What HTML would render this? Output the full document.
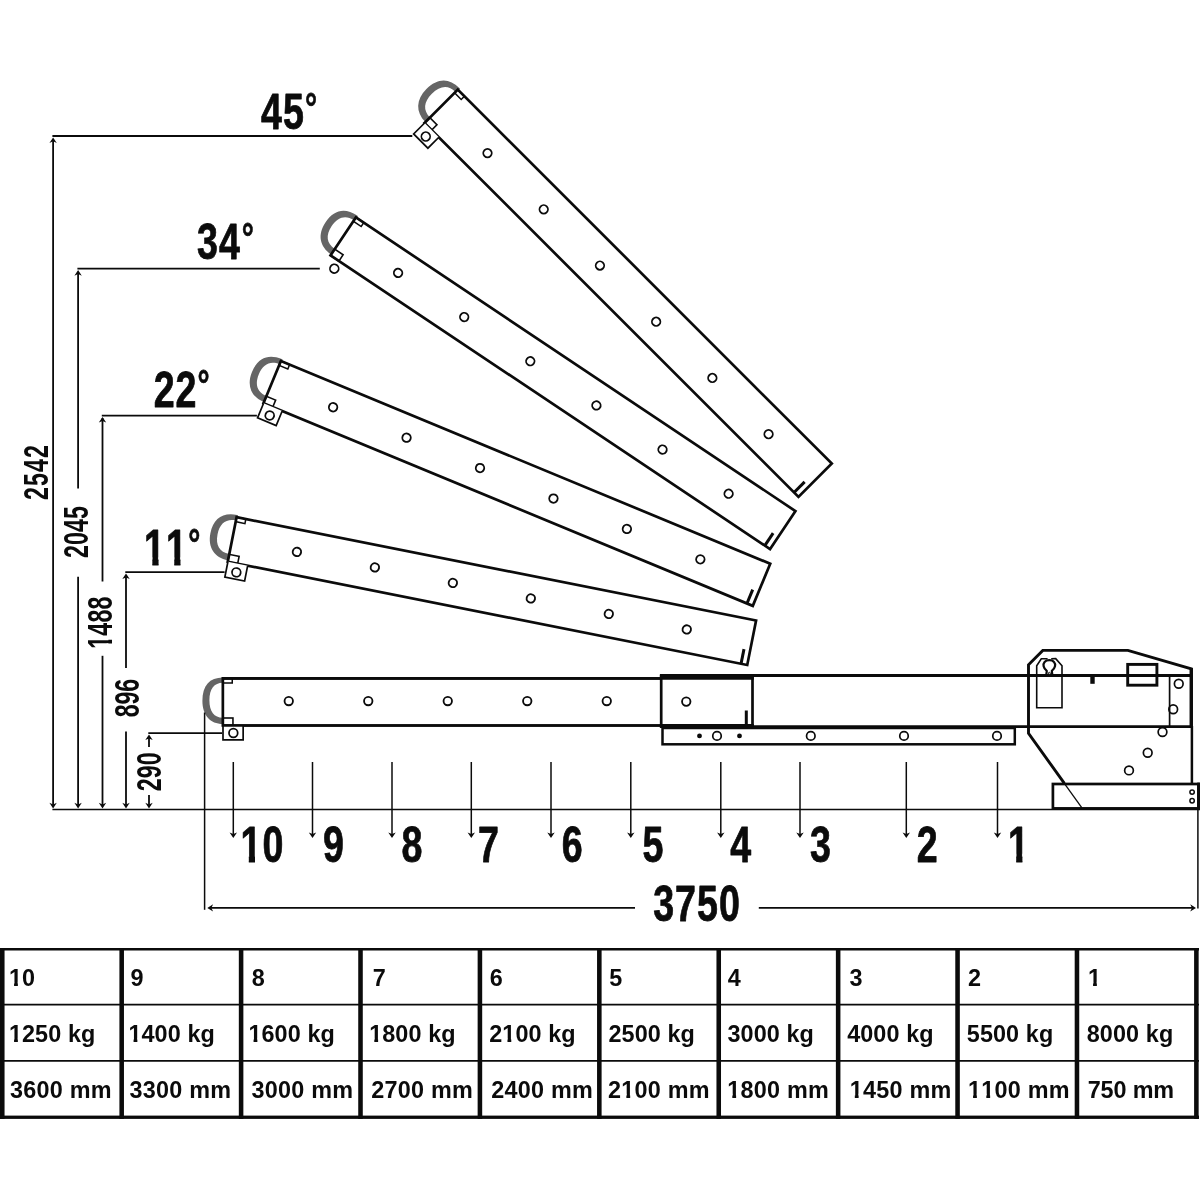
<!DOCTYPE html>
<html lang="en"><head><meta charset="utf-8"><title>Load diagram</title>
<style>html,body{margin:0;padding:0;background:#fff}body{width:1200px;height:1200px;overflow:hidden}svg{display:block;filter:grayscale(1)}text{font-family:'Liberation Sans', sans-serif;fill:#0b0b0b}</style>
</head><body>
<svg width="1200" height="1200" viewBox="0 0 1200 1200">
<defs>
<clipPath id="c1"><rect x="-20.00" y="-60.60" width="49.43" height="52.46"/><rect x="11.09" y="-8.64" width="8.33" height="33.89"/><rect x="29.43" y="-60.60" width="49.43" height="85.85"/></clipPath>
<clipPath id="c2"><rect x="-20.00" y="-60.60" width="69.43" height="52.46"/><rect x="11.09" y="-8.64" width="8.33" height="33.89"/></clipPath>
<clipPath id="c3"><rect x="-20.00" y="-60.60" width="49.43" height="52.46"/><rect x="11.09" y="-8.64" width="8.33" height="33.89"/><rect x="29.43" y="-60.60" width="49.43" height="52.46"/><rect x="40.51" y="-8.64" width="8.33" height="33.89"/></clipPath>
<clipPath id="c4"><rect x="-20.00" y="-42.00" width="39.62" height="36.36"/><rect x="7.87" y="-6.14" width="5.40" height="23.64"/><rect x="19.62" y="-42.00" width="19.62" height="59.50"/><rect x="39.23" y="-42.00" width="19.62" height="59.50"/><rect x="58.85" y="-42.00" width="39.62" height="59.50"/></clipPath>
<clipPath id="c5"><rect x="-20.00" y="-28.08" width="33.11" height="24.31"/><rect x="5.16" y="-4.27" width="3.81" height="15.97"/><rect x="13.11" y="-28.08" width="33.11" height="39.78"/></clipPath>
<clipPath id="c6"><rect x="-20.00" y="-28.08" width="53.11" height="24.31"/><rect x="5.16" y="-4.27" width="3.81" height="15.97"/></clipPath>
<clipPath id="c7"><rect x="-20.00" y="-28.08" width="33.11" height="24.31"/><rect x="5.16" y="-4.27" width="3.81" height="15.97"/><rect x="13.11" y="-28.08" width="13.11" height="39.78"/><rect x="26.23" y="-28.08" width="13.11" height="39.78"/><rect x="39.34" y="-28.08" width="13.11" height="39.78"/><rect x="52.46" y="-28.08" width="6.60" height="39.78"/><rect x="59.06" y="-28.08" width="13.11" height="39.78"/><rect x="72.17" y="-28.08" width="34.39" height="39.78"/></clipPath>
<clipPath id="c8"><rect x="-20.00" y="-28.08" width="33.11" height="24.31"/><rect x="5.16" y="-4.27" width="3.81" height="15.97"/><rect x="13.11" y="-28.08" width="13.11" height="39.78"/><rect x="26.23" y="-28.08" width="13.11" height="39.78"/><rect x="39.34" y="-28.08" width="13.11" height="39.78"/><rect x="52.46" y="-28.08" width="6.60" height="39.78"/><rect x="59.06" y="-28.08" width="13.11" height="39.78"/><rect x="72.17" y="-28.08" width="34.39" height="39.78"/></clipPath>
<clipPath id="c9"><rect x="-20.00" y="-28.08" width="33.11" height="24.31"/><rect x="5.16" y="-4.27" width="3.81" height="15.97"/><rect x="13.11" y="-28.08" width="13.11" height="39.78"/><rect x="26.23" y="-28.08" width="13.11" height="39.78"/><rect x="39.34" y="-28.08" width="13.11" height="39.78"/><rect x="52.46" y="-28.08" width="6.60" height="39.78"/><rect x="59.06" y="-28.08" width="13.11" height="39.78"/><rect x="72.17" y="-28.08" width="34.39" height="39.78"/></clipPath>
<clipPath id="c10"><rect x="-20.00" y="-28.08" width="33.11" height="24.31"/><rect x="5.16" y="-4.27" width="3.81" height="15.97"/><rect x="13.11" y="-28.08" width="13.11" height="39.78"/><rect x="26.23" y="-28.08" width="13.11" height="39.78"/><rect x="39.34" y="-28.08" width="13.11" height="39.78"/><rect x="52.46" y="-28.08" width="6.60" height="39.78"/><rect x="59.06" y="-28.08" width="13.11" height="39.78"/><rect x="72.17" y="-28.08" width="34.39" height="39.78"/></clipPath>
<clipPath id="c11"><rect x="-20.00" y="-28.08" width="33.11" height="39.78"/><rect x="13.11" y="-28.08" width="13.11" height="24.31"/><rect x="18.28" y="-4.27" width="3.81" height="15.97"/><rect x="26.23" y="-28.08" width="13.11" height="39.78"/><rect x="39.34" y="-28.08" width="13.11" height="39.78"/><rect x="52.46" y="-28.08" width="6.60" height="39.78"/><rect x="59.06" y="-28.08" width="13.11" height="39.78"/><rect x="72.17" y="-28.08" width="34.39" height="39.78"/></clipPath>
<clipPath id="c12"><rect x="-20.00" y="-28.08" width="33.26" height="39.78"/><rect x="13.26" y="-28.08" width="13.26" height="24.31"/><rect x="18.43" y="-4.27" width="3.81" height="15.97"/><rect x="26.53" y="-28.08" width="13.26" height="39.78"/><rect x="39.79" y="-28.08" width="13.26" height="39.78"/><rect x="53.06" y="-28.08" width="6.75" height="39.78"/><rect x="59.81" y="-28.08" width="21.06" height="39.78"/><rect x="80.86" y="-28.08" width="41.06" height="39.78"/></clipPath>
<clipPath id="c13"><rect x="-20.00" y="-28.08" width="33.26" height="24.31"/><rect x="5.16" y="-4.27" width="3.81" height="15.97"/><rect x="13.26" y="-28.08" width="13.26" height="39.78"/><rect x="26.53" y="-28.08" width="13.26" height="39.78"/><rect x="39.79" y="-28.08" width="13.26" height="39.78"/><rect x="53.06" y="-28.08" width="6.75" height="39.78"/><rect x="59.81" y="-28.08" width="21.06" height="39.78"/><rect x="80.86" y="-28.08" width="41.06" height="39.78"/></clipPath>
<clipPath id="c14"><rect x="-20.00" y="-28.08" width="33.26" height="24.31"/><rect x="5.16" y="-4.27" width="3.81" height="15.97"/><rect x="13.26" y="-28.08" width="13.26" height="39.78"/><rect x="26.53" y="-28.08" width="13.26" height="39.78"/><rect x="39.79" y="-28.08" width="13.26" height="39.78"/><rect x="53.06" y="-28.08" width="6.75" height="39.78"/><rect x="59.81" y="-28.08" width="21.06" height="39.78"/><rect x="80.86" y="-28.08" width="41.06" height="39.78"/></clipPath>
<clipPath id="c15"><rect x="-20.00" y="-28.08" width="33.26" height="24.31"/><rect x="5.16" y="-4.27" width="3.81" height="15.97"/><rect x="13.26" y="-28.08" width="13.26" height="24.31"/><rect x="18.43" y="-4.27" width="3.81" height="15.97"/><rect x="26.53" y="-28.08" width="13.26" height="39.78"/><rect x="39.79" y="-28.08" width="13.26" height="39.78"/><rect x="53.06" y="-28.08" width="6.75" height="39.78"/><rect x="59.81" y="-28.08" width="21.06" height="39.78"/><rect x="80.86" y="-28.08" width="41.06" height="39.78"/></clipPath>
</defs>
<rect width="1200" height="1200" fill="#fff"/>
<line x1="52.40" y1="809.60" x2="1200.00" y2="809.60" stroke="#0b0b0b" stroke-width="1.5" stroke-linecap="butt"/>
<line x1="52.40" y1="136.00" x2="412.30" y2="136.00" stroke="#0b0b0b" stroke-width="1.8" stroke-linecap="butt"/>
<line x1="77.40" y1="268.70" x2="319.80" y2="268.70" stroke="#0b0b0b" stroke-width="1.8" stroke-linecap="butt"/>
<line x1="101.80" y1="415.60" x2="256.90" y2="415.60" stroke="#0b0b0b" stroke-width="1.8" stroke-linecap="butt"/>
<line x1="125.30" y1="572.10" x2="224.60" y2="572.10" stroke="#0b0b0b" stroke-width="1.8" stroke-linecap="butt"/>
<line x1="148.30" y1="733.10" x2="222.00" y2="733.10" stroke="#0b0b0b" stroke-width="1.8" stroke-linecap="butt"/>
<line x1="53.10" y1="139.00" x2="53.10" y2="806.00" stroke="#0b0b0b" stroke-width="1.8" stroke-linecap="butt"/>
<line x1="78.10" y1="272.00" x2="78.10" y2="488.50" stroke="#0b0b0b" stroke-width="1.8" stroke-linecap="butt"/>
<line x1="78.10" y1="576.70" x2="78.10" y2="806.00" stroke="#0b0b0b" stroke-width="1.8" stroke-linecap="butt"/>
<line x1="102.50" y1="418.00" x2="102.50" y2="581.50" stroke="#0b0b0b" stroke-width="1.8" stroke-linecap="butt"/>
<line x1="102.50" y1="655.80" x2="102.50" y2="806.00" stroke="#0b0b0b" stroke-width="1.8" stroke-linecap="butt"/>
<line x1="126.00" y1="575.00" x2="126.00" y2="668.00" stroke="#0b0b0b" stroke-width="1.8" stroke-linecap="butt"/>
<line x1="126.00" y1="731.50" x2="126.00" y2="806.00" stroke="#0b0b0b" stroke-width="1.8" stroke-linecap="butt"/>
<line x1="149.00" y1="736.00" x2="149.00" y2="747.00" stroke="#0b0b0b" stroke-width="1.8" stroke-linecap="butt"/>
<line x1="149.00" y1="795.00" x2="149.00" y2="806.00" stroke="#0b0b0b" stroke-width="1.8" stroke-linecap="butt"/>
<polygon points="53.10,137.40 49.40,143.00 53.10,141.32 56.80,143.00" fill="#0b0b0b"/>
<polygon points="53.10,808.40 49.40,802.80 53.10,804.48 56.80,802.80" fill="#0b0b0b"/>
<polygon points="78.10,270.10 74.40,275.70 78.10,274.02 81.80,275.70" fill="#0b0b0b"/>
<polygon points="78.10,808.40 74.40,802.80 78.10,804.48 81.80,802.80" fill="#0b0b0b"/>
<polygon points="102.50,417.00 98.80,422.60 102.50,420.92 106.20,422.60" fill="#0b0b0b"/>
<polygon points="102.50,808.40 98.80,802.80 102.50,804.48 106.20,802.80" fill="#0b0b0b"/>
<polygon points="126.00,573.50 122.30,579.10 126.00,577.42 129.70,579.10" fill="#0b0b0b"/>
<polygon points="126.00,808.40 122.30,802.80 126.00,804.48 129.70,802.80" fill="#0b0b0b"/>
<polygon points="149.00,734.50 145.30,740.10 149.00,738.42 152.70,740.10" fill="#0b0b0b"/>
<polygon points="149.00,808.40 145.30,802.80 149.00,804.48 152.70,802.80" fill="#0b0b0b"/>
<g transform="translate(487.50,153.10) rotate(45)">
<path d="M-64.9,-26.10 L-65.9,-26.10 C-80.56,-26.10 -88.45,-17.68 -88.45,-2.05 C-88.45,12.86 -79.88,22.00 -65.9,22.00 L-64.9,22.00 L-64.9,15.45 L-65.9,15.45 C-75.88,15.45 -81.25,9.15 -81.25,-2.55 C-81.25,-14.25 -75.88,-20.55 -65.9,-20.55 L-64.9,-20.55 Z" fill="#656565"/>
<rect x="-65.9" y="-23.9" width="528.9" height="47.10" fill="#fff" stroke="#0b0b0b" stroke-width="2.7"/>
<rect x="-65.9" y="-23.9" width="9.4" height="4.6" fill="none" stroke="#0b0b0b" stroke-width="1.5"/>
<rect x="-65.9" y="15.70" width="10.1" height="7.5" fill="none" stroke="#0b0b0b" stroke-width="1.6"/>
<path d="M-65.75,23.2 L-65.75,38.7 L-45.60000000000001,38.7 L-45.60000000000001,23.2" fill="#fff" stroke="#0b0b0b" stroke-width="1.7"/>
<circle cx="-55.40" cy="31.9" r="4.35" fill="#fff" stroke="#0b0b0b" stroke-width="1.75"/>
<circle cx="0.00" cy="0" r="4.2" fill="#fff" stroke="#0b0b0b" stroke-width="1.85"/>
<circle cx="79.50" cy="0" r="4.2" fill="#fff" stroke="#0b0b0b" stroke-width="1.85"/>
<circle cx="159.00" cy="0" r="4.2" fill="#fff" stroke="#0b0b0b" stroke-width="1.85"/>
<circle cx="238.50" cy="0" r="4.2" fill="#fff" stroke="#0b0b0b" stroke-width="1.85"/>
<circle cx="318.00" cy="0" r="4.2" fill="#fff" stroke="#0b0b0b" stroke-width="1.85"/>
<circle cx="397.50" cy="0" r="4.2" fill="#fff" stroke="#0b0b0b" stroke-width="1.85"/>
<line x1="456.7" y1="8.20" x2="456.7" y2="23.2" stroke="#0b0b0b" stroke-width="3"/>
</g>
<g transform="translate(398.10,272.90) rotate(33.75)">
<path d="M-64.9,-24.90 L-65.9,-24.90 C-80.56,-24.90 -88.45,-16.73 -88.45,-1.55 C-88.45,12.93 -79.88,21.80 -65.9,21.80 L-64.9,21.80 L-64.9,15.25 L-65.9,15.25 C-75.88,15.25 -81.25,9.20 -81.25,-2.05 C-81.25,-13.30 -75.88,-19.35 -65.9,-19.35 L-64.9,-19.35 Z" fill="#656565"/>
<rect x="-65.9" y="-22.7" width="528.6" height="45.70" fill="#fff" stroke="#0b0b0b" stroke-width="2.7"/>
<rect x="-65.9" y="-22.7" width="9.4" height="4.6" fill="none" stroke="#0b0b0b" stroke-width="1.5"/>
<rect x="-65.9" y="15.50" width="10.1" height="7.5" fill="none" stroke="#0b0b0b" stroke-width="1.6"/>
<circle cx="-55.40" cy="31.9" r="4.35" fill="#fff" stroke="#0b0b0b" stroke-width="1.75"/>
<circle cx="0.00" cy="0" r="4.2" fill="#fff" stroke="#0b0b0b" stroke-width="1.85"/>
<circle cx="79.50" cy="0" r="4.2" fill="#fff" stroke="#0b0b0b" stroke-width="1.85"/>
<circle cx="159.00" cy="0" r="4.2" fill="#fff" stroke="#0b0b0b" stroke-width="1.85"/>
<circle cx="238.50" cy="0" r="4.2" fill="#fff" stroke="#0b0b0b" stroke-width="1.85"/>
<circle cx="318.00" cy="0" r="4.2" fill="#fff" stroke="#0b0b0b" stroke-width="1.85"/>
<circle cx="397.50" cy="0" r="4.2" fill="#fff" stroke="#0b0b0b" stroke-width="1.85"/>
<line x1="456.4" y1="8.00" x2="456.4" y2="23.0" stroke="#0b0b0b" stroke-width="3"/>
</g>
<g transform="translate(333.10,407.25) rotate(22.5)">
<path d="M-64.9,-24.90 L-65.9,-24.90 C-80.56,-24.90 -88.45,-16.74 -88.45,-1.60 C-88.45,12.85 -79.88,21.70 -65.9,21.70 L-64.9,21.70 L-64.9,15.15 L-65.9,15.15 C-75.88,15.15 -81.25,9.11 -81.25,-2.10 C-81.25,-13.31 -75.88,-19.35 -65.9,-19.35 L-64.9,-19.35 Z" fill="#656565"/>
<rect x="-65.9" y="-22.7" width="529.65" height="45.60" fill="#fff" stroke="#0b0b0b" stroke-width="2.7"/>
<rect x="-65.9" y="-22.7" width="9.4" height="4.6" fill="none" stroke="#0b0b0b" stroke-width="1.5"/>
<rect x="-65.9" y="15.40" width="10.1" height="7.5" fill="none" stroke="#0b0b0b" stroke-width="1.6"/>
<path d="M-65.75,22.9 L-65.75,38.7 L-45.60000000000001,38.7 L-45.60000000000001,22.9" fill="#fff" stroke="#0b0b0b" stroke-width="1.7"/>
<circle cx="-55.40" cy="31.9" r="4.35" fill="#fff" stroke="#0b0b0b" stroke-width="1.75"/>
<circle cx="0.00" cy="0" r="4.2" fill="#fff" stroke="#0b0b0b" stroke-width="1.85"/>
<circle cx="79.50" cy="0" r="4.2" fill="#fff" stroke="#0b0b0b" stroke-width="1.85"/>
<circle cx="159.00" cy="0" r="4.2" fill="#fff" stroke="#0b0b0b" stroke-width="1.85"/>
<circle cx="238.50" cy="0" r="4.2" fill="#fff" stroke="#0b0b0b" stroke-width="1.85"/>
<circle cx="318.00" cy="0" r="4.2" fill="#fff" stroke="#0b0b0b" stroke-width="1.85"/>
<circle cx="397.50" cy="0" r="4.2" fill="#fff" stroke="#0b0b0b" stroke-width="1.85"/>
<line x1="457.45" y1="7.90" x2="457.45" y2="22.9" stroke="#0b0b0b" stroke-width="3"/>
</g>
<g transform="translate(296.90,551.90) rotate(11.25)">
<path d="M-64.9,-24.50 L-65.9,-24.50 C-80.56,-24.50 -88.45,-16.38 -88.45,-1.30 C-88.45,13.08 -79.88,21.90 -65.9,21.90 L-64.9,21.90 L-64.9,15.35 L-65.9,15.35 C-75.88,15.35 -81.25,9.35 -81.25,-1.80 C-81.25,-12.95 -75.88,-18.95 -65.9,-18.95 L-64.9,-18.95 Z" fill="#656565"/>
<rect x="-65.9" y="-22.3" width="529.65" height="45.40" fill="#fff" stroke="#0b0b0b" stroke-width="2.7"/>
<rect x="-65.9" y="-22.3" width="9.4" height="4.6" fill="none" stroke="#0b0b0b" stroke-width="1.5"/>
<rect x="-65.9" y="15.60" width="10.1" height="7.5" fill="none" stroke="#0b0b0b" stroke-width="1.6"/>
<path d="M-65.75,23.1 L-65.75,38.7 L-45.60000000000001,38.7 L-45.60000000000001,23.1" fill="#fff" stroke="#0b0b0b" stroke-width="1.7"/>
<circle cx="-55.40" cy="31.9" r="4.35" fill="#fff" stroke="#0b0b0b" stroke-width="1.75"/>
<circle cx="0.00" cy="0" r="4.2" fill="#fff" stroke="#0b0b0b" stroke-width="1.85"/>
<circle cx="79.50" cy="0" r="4.2" fill="#fff" stroke="#0b0b0b" stroke-width="1.85"/>
<circle cx="159.00" cy="0" r="4.2" fill="#fff" stroke="#0b0b0b" stroke-width="1.85"/>
<circle cx="238.50" cy="0" r="4.2" fill="#fff" stroke="#0b0b0b" stroke-width="1.85"/>
<circle cx="318.00" cy="0" r="4.2" fill="#fff" stroke="#0b0b0b" stroke-width="1.85"/>
<circle cx="397.50" cy="0" r="4.2" fill="#fff" stroke="#0b0b0b" stroke-width="1.85"/>
<line x1="457.45" y1="8.10" x2="457.45" y2="23.1" stroke="#0b0b0b" stroke-width="3"/>
</g>
<line x1="661.00" y1="675.50" x2="1191.00" y2="675.50" stroke="#0b0b0b" stroke-width="2.8" stroke-linecap="butt"/>
<line x1="661.00" y1="726.60" x2="1191.80" y2="726.60" stroke="#0b0b0b" stroke-width="2.6" stroke-linecap="butt"/>
<g transform="translate(288.75,701.10) rotate(0)">
<path d="M-64.9,-23.60 L-65.9,-23.60 C-79.19,-23.60 -86.35,-15.46 -86.35,-0.35 C-86.35,14.06 -78.58,22.90 -65.9,22.90 L-64.9,22.90 L-64.9,16.65 L-65.9,16.65 C-74.64,16.65 -79.35,10.52 -79.35,-0.85 C-79.35,-12.23 -74.64,-18.35 -65.9,-18.35 L-64.9,-18.35 Z" fill="#656565"/>
<path d="M463.75,-22.7 L-65.9,-22.7 L-65.9,24.4 L463.75,24.4" fill="#fff" stroke="#0b0b0b" stroke-width="2.7"/>
<rect x="-65.9" y="-22.7" width="9.4" height="4.6" fill="none" stroke="#0b0b0b" stroke-width="1.5"/>
<rect x="-65.9" y="16.90" width="10.1" height="7.5" fill="none" stroke="#0b0b0b" stroke-width="1.6"/>
<path d="M-65.75,24.4 L-65.75,38.7 L-45.60000000000001,38.7 L-45.60000000000001,24.4" fill="#fff" stroke="#0b0b0b" stroke-width="1.7"/>
<circle cx="-55.40" cy="31.9" r="4.35" fill="#fff" stroke="#0b0b0b" stroke-width="1.75"/>
<circle cx="0.00" cy="0" r="4.2" fill="#fff" stroke="#0b0b0b" stroke-width="1.85"/>
<circle cx="79.50" cy="0" r="4.2" fill="#fff" stroke="#0b0b0b" stroke-width="1.85"/>
<circle cx="159.00" cy="0" r="4.2" fill="#fff" stroke="#0b0b0b" stroke-width="1.85"/>
<circle cx="238.50" cy="0" r="4.2" fill="#fff" stroke="#0b0b0b" stroke-width="1.85"/>
<circle cx="318.00" cy="0" r="4.2" fill="#fff" stroke="#0b0b0b" stroke-width="1.85"/>
<circle cx="397.50" cy="0" r="4.2" fill="#fff" stroke="#0b0b0b" stroke-width="1.85"/>
</g>
<line x1="223.00" y1="678.40" x2="662.00" y2="678.40" stroke="#0b0b0b" stroke-width="2.7" stroke-linecap="butt"/>
<line x1="223.00" y1="725.50" x2="662.00" y2="725.50" stroke="#0b0b0b" stroke-width="2.7" stroke-linecap="butt"/>
<rect x="661.2" y="676.2" width="91.3" height="50" fill="#fff" stroke="#0b0b0b" stroke-width="2.7"/>
<line x1="659.90" y1="676.80" x2="753.80" y2="676.80" stroke="#0b0b0b" stroke-width="5.8" stroke-linecap="butt"/>
<line x1="659.90" y1="726.00" x2="753.80" y2="726.00" stroke="#0b0b0b" stroke-width="4.2" stroke-linecap="butt"/>
<circle cx="686.25" cy="701.60" r="4.2" fill="#fff" stroke="#0b0b0b" stroke-width="1.85"/>
<line x1="746.30" y1="710.50" x2="746.30" y2="726.00" stroke="#0b0b0b" stroke-width="3" stroke-linecap="butt"/>
<rect x="662.5" y="728" width="352.3" height="16.3" fill="#fff" stroke="#0b0b0b" stroke-width="2.5"/>
<circle cx="717.00" cy="735.90" r="4.25" fill="#fff" stroke="#0b0b0b" stroke-width="1.7"/>
<circle cx="810.80" cy="735.90" r="4.25" fill="#fff" stroke="#0b0b0b" stroke-width="1.7"/>
<circle cx="904.00" cy="735.90" r="4.25" fill="#fff" stroke="#0b0b0b" stroke-width="1.7"/>
<circle cx="997.00" cy="735.90" r="4.25" fill="#fff" stroke="#0b0b0b" stroke-width="1.7"/>
<circle cx="699.50" cy="735.90" r="1.8" fill="#0b0b0b" stroke="#0b0b0b" stroke-width="1.2"/>
<circle cx="739.50" cy="735.90" r="1.8" fill="#0b0b0b" stroke="#0b0b0b" stroke-width="1.2"/>
<path d="M1064.4,783.4 L1028.5,733.3 L1028.5,664.8 L1042.8,650.4 L1127.9,650.4 L1191.3,668.9 L1191.3,727.5" fill="none" stroke="#0b0b0b" stroke-width="2.9" stroke-linejoin="miter"/>
<line x1="1191.30" y1="668.00" x2="1191.30" y2="727.50" stroke="#0b0b0b" stroke-width="3.3" stroke-linecap="butt"/>
<line x1="1191.90" y1="726.00" x2="1191.90" y2="783.00" stroke="#0b0b0b" stroke-width="2.5" stroke-linecap="butt"/>
<line x1="1063.60" y1="782.30" x2="1081.90" y2="807.80" stroke="#0b0b0b" stroke-width="1.3" stroke-linecap="butt"/>
<line x1="1169.60" y1="675.60" x2="1169.60" y2="726.50" stroke="#0b0b0b" stroke-width="1.7" stroke-linecap="butt"/>
<path d="M1047.6,658.7 L1041.3,658.8 L1036.7,665.7 L1036.7,707.7 L1062,707.7 L1062,665.7 L1055.7,658.6 L1051.2,658.7" fill="none" stroke="#0b0b0b" stroke-width="1.6"/>
<path d="M1046.2,675.4 L1046.8,670.8 C1043.2,668.2 1042.7,664.2 1044.6,662.0 C1046.6,659.6 1052.1,659.6 1054,662.0 C1056,664.2 1055.4,668.2 1051.8,670.8 L1052.4,675.4" fill="none" stroke="#0b0b0b" stroke-width="2.2" stroke-linejoin="round"/>
<circle cx="1049.40" cy="673.30" r="1.0" fill="#fff" stroke="#0b0b0b" stroke-width="1.0"/>
<rect x="1090.3" y="676" width="4.4" height="7.8" fill="#0b0b0b"/>
<rect x="1127.7" y="664.4" width="29.2" height="20.8" fill="none" stroke="#0b0b0b" stroke-width="2.9"/>
<circle cx="1178.75" cy="683.75" r="4.35" fill="none" stroke="#0b0b0b" stroke-width="1.7"/>
<circle cx="1173.20" cy="709.30" r="4.35" fill="none" stroke="#0b0b0b" stroke-width="1.7"/>
<circle cx="1162.50" cy="732.00" r="4.35" fill="none" stroke="#0b0b0b" stroke-width="1.7"/>
<circle cx="1147.70" cy="752.70" r="4.35" fill="none" stroke="#0b0b0b" stroke-width="1.7"/>
<circle cx="1129.00" cy="770.40" r="4.35" fill="none" stroke="#0b0b0b" stroke-width="1.7"/>
<rect x="1052.9" y="784" width="145.5" height="24.4" fill="none" stroke="#0b0b0b" stroke-width="2.7"/>
<rect x="1197.2" y="782.6" width="2.8" height="27" fill="#0b0b0b"/>
<circle cx="1192.10" cy="792.10" r="2.2" fill="#fff" stroke="#0b0b0b" stroke-width="1.5"/>
<circle cx="1192.10" cy="800.70" r="2.2" fill="#fff" stroke="#0b0b0b" stroke-width="1.5"/>
<line x1="233.30" y1="762.00" x2="233.30" y2="834.00" stroke="#0b0b0b" stroke-width="1.5" stroke-linecap="butt"/>
<polygon points="233.30,838.00 229.60,832.40 233.30,834.08 237.00,832.40" fill="#0b0b0b"/>
<line x1="312.50" y1="762.00" x2="312.50" y2="834.00" stroke="#0b0b0b" stroke-width="1.5" stroke-linecap="butt"/>
<polygon points="312.50,838.00 308.80,832.40 312.50,834.08 316.20,832.40" fill="#0b0b0b"/>
<line x1="392.00" y1="762.00" x2="392.00" y2="834.00" stroke="#0b0b0b" stroke-width="1.5" stroke-linecap="butt"/>
<polygon points="392.00,838.00 388.30,832.40 392.00,834.08 395.70,832.40" fill="#0b0b0b"/>
<line x1="471.30" y1="762.00" x2="471.30" y2="834.00" stroke="#0b0b0b" stroke-width="1.5" stroke-linecap="butt"/>
<polygon points="471.30,838.00 467.60,832.40 471.30,834.08 475.00,832.40" fill="#0b0b0b"/>
<line x1="551.00" y1="762.00" x2="551.00" y2="834.00" stroke="#0b0b0b" stroke-width="1.5" stroke-linecap="butt"/>
<polygon points="551.00,838.00 547.30,832.40 551.00,834.08 554.70,832.40" fill="#0b0b0b"/>
<line x1="630.80" y1="762.00" x2="630.80" y2="834.00" stroke="#0b0b0b" stroke-width="1.5" stroke-linecap="butt"/>
<polygon points="630.80,838.00 627.10,832.40 630.80,834.08 634.50,832.40" fill="#0b0b0b"/>
<line x1="720.80" y1="762.00" x2="720.80" y2="834.00" stroke="#0b0b0b" stroke-width="1.5" stroke-linecap="butt"/>
<polygon points="720.80,838.00 717.10,832.40 720.80,834.08 724.50,832.40" fill="#0b0b0b"/>
<line x1="800.00" y1="762.00" x2="800.00" y2="834.00" stroke="#0b0b0b" stroke-width="1.5" stroke-linecap="butt"/>
<polygon points="800.00,838.00 796.30,832.40 800.00,834.08 803.70,832.40" fill="#0b0b0b"/>
<line x1="906.30" y1="762.00" x2="906.30" y2="834.00" stroke="#0b0b0b" stroke-width="1.5" stroke-linecap="butt"/>
<polygon points="906.30,838.00 902.60,832.40 906.30,834.08 910.00,832.40" fill="#0b0b0b"/>
<line x1="997.50" y1="762.00" x2="997.50" y2="834.00" stroke="#0b0b0b" stroke-width="1.5" stroke-linecap="butt"/>
<polygon points="997.50,838.00 993.80,832.40 997.50,834.08 1001.20,832.40" fill="#0b0b0b"/>
<line x1="204.60" y1="712.50" x2="204.60" y2="909.80" stroke="#0b0b0b" stroke-width="1.5" stroke-linecap="butt"/>
<line x1="1197.90" y1="808.00" x2="1197.90" y2="908.60" stroke="#0b0b0b" stroke-width="1.5" stroke-linecap="butt"/>
<line x1="210.50" y1="907.90" x2="635.00" y2="907.90" stroke="#0b0b0b" stroke-width="1.6" stroke-linecap="butt"/>
<line x1="758.80" y1="907.90" x2="1192.50" y2="907.90" stroke="#0b0b0b" stroke-width="1.6" stroke-linecap="butt"/>
<polygon points="207.30,907.90 213.10,904.20 211.36,907.90 213.10,911.60" fill="#0b0b0b"/>
<polygon points="1196.00,907.90 1190.20,904.20 1191.94,907.90 1190.20,911.60" fill="#0b0b0b"/>
<text transform="translate(240.56,862.00) scale(0.745,1)" x="0.00 29.43" y="0" font-size="50.5" font-weight="bold" stroke="#0b0b0b" stroke-width="0.8" stroke-linejoin="round" clip-path="url(#c1)">10</text>
<text transform="translate(322.98,862.00) scale(0.745,1)" x="0.00" y="0" font-size="50.5" font-weight="bold" stroke="#0b0b0b" stroke-width="0.8" stroke-linejoin="round">9</text>
<text transform="translate(401.42,862.00) scale(0.745,1)" x="0.00" y="0" font-size="50.5" font-weight="bold" stroke="#0b0b0b" stroke-width="0.8" stroke-linejoin="round">8</text>
<text transform="translate(477.96,862.00) scale(0.745,1)" x="0.00" y="0" font-size="50.5" font-weight="bold" stroke="#0b0b0b" stroke-width="0.8" stroke-linejoin="round">7</text>
<text transform="translate(561.73,862.00) scale(0.745,1)" x="0.00" y="0" font-size="50.5" font-weight="bold" stroke="#0b0b0b" stroke-width="0.8" stroke-linejoin="round">6</text>
<text transform="translate(642.58,862.00) scale(0.745,1)" x="0.00" y="0" font-size="50.5" font-weight="bold" stroke="#0b0b0b" stroke-width="0.8" stroke-linejoin="round">5</text>
<text transform="translate(730.35,862.00) scale(0.745,1)" x="0.00" y="0" font-size="50.5" font-weight="bold" stroke="#0b0b0b" stroke-width="0.8" stroke-linejoin="round">4</text>
<text transform="translate(809.89,862.00) scale(0.745,1)" x="0.00" y="0" font-size="50.5" font-weight="bold" stroke="#0b0b0b" stroke-width="0.8" stroke-linejoin="round">3</text>
<text transform="translate(916.84,862.00) scale(0.745,1)" x="0.00" y="0" font-size="50.5" font-weight="bold" stroke="#0b0b0b" stroke-width="0.8" stroke-linejoin="round">2</text>
<text transform="translate(1007.94,862.00) scale(0.745,1)" x="0.00" y="0" font-size="50.5" font-weight="bold" stroke="#0b0b0b" stroke-width="0.8" stroke-linejoin="round" clip-path="url(#c2)">1</text>
<text transform="translate(653.19,921.00) scale(0.745,1)" x="0.00 29.43 58.86 88.28" y="0" font-size="50.5" font-weight="bold" stroke="#0b0b0b" stroke-width="0.8" stroke-linejoin="round">3750</text>
<text transform="translate(261.01,129.40) scale(0.745,1)" x="0.00 29.43" y="0" font-size="50.5" font-weight="bold" stroke="#0b0b0b" stroke-width="0.8" stroke-linejoin="round">45</text>
<text transform="translate(304.94,122.70) scale(0.72,1)" x="0.00" y="0" font-size="42" font-weight="bold" stroke="#0b0b0b" stroke-width="0.7" stroke-linejoin="round">°</text>
<text transform="translate(197.05,259.20) scale(0.745,1)" x="0.00 29.43" y="0" font-size="50.5" font-weight="bold" stroke="#0b0b0b" stroke-width="0.8" stroke-linejoin="round">34</text>
<text transform="translate(241.64,252.50) scale(0.72,1)" x="0.00" y="0" font-size="42" font-weight="bold" stroke="#0b0b0b" stroke-width="0.7" stroke-linejoin="round">°</text>
<text transform="translate(153.68,406.60) scale(0.745,1)" x="0.00 29.43" y="0" font-size="50.5" font-weight="bold" stroke="#0b0b0b" stroke-width="0.8" stroke-linejoin="round">22</text>
<text transform="translate(197.54,399.90) scale(0.72,1)" x="0.00" y="0" font-size="42" font-weight="bold" stroke="#0b0b0b" stroke-width="0.7" stroke-linejoin="round">°</text>
<text transform="translate(144.08,565.40) scale(0.745,1)" x="0.00 29.43" y="0" font-size="50.5" font-weight="bold" stroke="#0b0b0b" stroke-width="0.8" stroke-linejoin="round" clip-path="url(#c3)">11</text>
<text transform="translate(188.24,558.70) scale(0.72,1)" x="0.00" y="0" font-size="42" font-weight="bold" stroke="#0b0b0b" stroke-width="0.7" stroke-linejoin="round">°</text>
<text transform="translate(47.90,500.08) rotate(-90) scale(0.665,1)" x="0.00 21.12 42.24 63.36" y="0" font-size="35" font-weight="bold">2542</text>
<text transform="translate(87.70,558.12) rotate(-90) scale(0.665,1)" x="0.00 19.62 39.23 58.85" y="0" font-size="35" font-weight="bold">2045</text>
<text transform="translate(112.30,648.68) rotate(-90) scale(0.665,1)" x="0.00 19.62 39.23 58.85" y="0" font-size="35" font-weight="bold" clip-path="url(#c4)">1488</text>
<text transform="translate(139.00,717.37) rotate(-90) scale(0.665,1)" x="0.00 19.31 38.63" y="0" font-size="35" font-weight="bold">896</text>
<text transform="translate(160.70,791.24) rotate(-90) scale(0.665,1)" x="0.00 19.47 38.93" y="0" font-size="35" font-weight="bold">290</text>
<rect x="0" y="948.0" width="1199" height="2.5" fill="#0b0b0b"/>
<rect x="0" y="1115.6" width="1199" height="3.3" fill="#0b0b0b"/>
<line x1="0.00" y1="1004.70" x2="1199.00" y2="1004.70" stroke="#0b0b0b" stroke-width="1.7" stroke-linecap="butt"/>
<line x1="0.00" y1="1060.80" x2="1199.00" y2="1060.80" stroke="#0b0b0b" stroke-width="1.7" stroke-linecap="butt"/>
<rect x="0.00" y="948.0" width="4.55" height="170.9" fill="#0b0b0b"/>
<rect x="119.41" y="948.0" width="4.55" height="170.9" fill="#0b0b0b"/>
<rect x="238.82" y="948.0" width="4.55" height="170.9" fill="#0b0b0b"/>
<rect x="358.23" y="948.0" width="4.55" height="170.9" fill="#0b0b0b"/>
<rect x="477.64" y="948.0" width="4.55" height="170.9" fill="#0b0b0b"/>
<rect x="597.05" y="948.0" width="4.55" height="170.9" fill="#0b0b0b"/>
<rect x="716.46" y="948.0" width="4.55" height="170.9" fill="#0b0b0b"/>
<rect x="835.87" y="948.0" width="4.55" height="170.9" fill="#0b0b0b"/>
<rect x="955.28" y="948.0" width="4.55" height="170.9" fill="#0b0b0b"/>
<rect x="1074.69" y="948.0" width="4.55" height="170.9" fill="#0b0b0b"/>
<rect x="1194.10" y="948.0" width="4.55" height="170.9" fill="#0b0b0b"/>
<text transform="translate(8.90,985.50)" x="0.00 13.11" y="0" font-size="23.4" font-weight="bold" clip-path="url(#c5)">10</text>
<text transform="translate(130.44,985.50)" x="0.00" y="0" font-size="23.4" font-weight="bold">9</text>
<text transform="translate(251.76,985.50)" x="0.00" y="0" font-size="23.4" font-weight="bold">8</text>
<text transform="translate(372.74,985.50)" x="0.00" y="0" font-size="23.4" font-weight="bold">7</text>
<text transform="translate(489.64,985.50)" x="0.00" y="0" font-size="23.4" font-weight="bold">6</text>
<text transform="translate(609.28,985.50)" x="0.00" y="0" font-size="23.4" font-weight="bold">5</text>
<text transform="translate(727.65,985.50)" x="0.00" y="0" font-size="23.4" font-weight="bold">4</text>
<text transform="translate(849.46,985.50)" x="0.00" y="0" font-size="23.4" font-weight="bold">3</text>
<text transform="translate(967.94,985.50)" x="0.00" y="0" font-size="23.4" font-weight="bold">2</text>
<text transform="translate(1087.90,985.50)" x="0.00" y="0" font-size="23.4" font-weight="bold" clip-path="url(#c6)">1</text>
<text transform="translate(8.90,1042.20)" x="0.00 13.11 26.23 39.34 52.46 59.06 72.17" y="0" font-size="23.4" font-weight="bold" clip-path="url(#c7)">1250 kg</text>
<text transform="translate(128.40,1042.20)" x="0.00 13.11 26.23 39.34 52.46 59.06 72.17" y="0" font-size="23.4" font-weight="bold" clip-path="url(#c8)">1400 kg</text>
<text transform="translate(248.40,1042.20)" x="0.00 13.11 26.23 39.34 52.46 59.06 72.17" y="0" font-size="23.4" font-weight="bold" clip-path="url(#c9)">1600 kg</text>
<text transform="translate(369.15,1042.20)" x="0.00 13.11 26.23 39.34 52.46 59.06 72.17" y="0" font-size="23.4" font-weight="bold" clip-path="url(#c10)">1800 kg</text>
<text transform="translate(489.19,1042.20)" x="0.00 13.11 26.23 39.34 52.46 59.06 72.17" y="0" font-size="23.4" font-weight="bold" clip-path="url(#c11)">2100 kg</text>
<text transform="translate(608.44,1042.20)" x="0.00 13.11 26.23 39.34 52.46 59.06 72.17" y="0" font-size="23.4" font-weight="bold">2500 kg</text>
<text transform="translate(727.46,1042.20)" x="0.00 13.11 26.23 39.34 52.46 59.06 72.17" y="0" font-size="23.4" font-weight="bold">3000 kg</text>
<text transform="translate(847.15,1042.20)" x="0.00 13.11 26.23 39.34 52.46 59.06 72.17" y="0" font-size="23.4" font-weight="bold">4000 kg</text>
<text transform="translate(966.78,1042.20)" x="0.00 13.11 26.23 39.34 52.46 59.06 72.17" y="0" font-size="23.4" font-weight="bold">5500 kg</text>
<text transform="translate(1086.76,1042.20)" x="0.00 13.11 26.23 39.34 52.46 59.06 72.17" y="0" font-size="23.4" font-weight="bold">8000 kg</text>
<text transform="translate(9.96,1097.50)" x="0.00 13.26 26.53 39.79 53.06 59.81 80.86" y="0" font-size="23.4" font-weight="bold">3600 mm</text>
<text transform="translate(129.46,1097.50)" x="0.00 13.26 26.53 39.79 53.06 59.81 80.86" y="0" font-size="23.4" font-weight="bold">3300 mm</text>
<text transform="translate(251.46,1097.50)" x="0.00 13.26 26.53 39.79 53.06 59.81 80.86" y="0" font-size="23.4" font-weight="bold">3000 mm</text>
<text transform="translate(371.19,1097.50)" x="0.00 13.26 26.53 39.79 53.06 59.81 80.86" y="0" font-size="23.4" font-weight="bold">2700 mm</text>
<text transform="translate(491.19,1097.50)" x="0.00 13.26 26.53 39.79 53.06 59.81 80.86" y="0" font-size="23.4" font-weight="bold">2400 mm</text>
<text transform="translate(607.94,1097.50)" x="0.00 13.26 26.53 39.79 53.06 59.81 80.86" y="0" font-size="23.4" font-weight="bold" clip-path="url(#c12)">2100 mm</text>
<text transform="translate(727.15,1097.50)" x="0.00 13.26 26.53 39.79 53.06 59.81 80.86" y="0" font-size="23.4" font-weight="bold" clip-path="url(#c13)">1800 mm</text>
<text transform="translate(849.65,1097.50)" x="0.00 13.26 26.53 39.79 53.06 59.81 80.86" y="0" font-size="23.4" font-weight="bold" clip-path="url(#c14)">1450 mm</text>
<text transform="translate(967.90,1097.50)" x="0.00 13.26 26.53 39.79 53.06 59.81 80.86" y="0" font-size="23.4" font-weight="bold" clip-path="url(#c15)">1100 mm</text>
<text transform="translate(1087.74,1097.50)" x="0.00 12.86 25.73 38.59 44.94 65.60" y="0" font-size="23.4" font-weight="bold">750 mm</text>
</svg></body></html>
